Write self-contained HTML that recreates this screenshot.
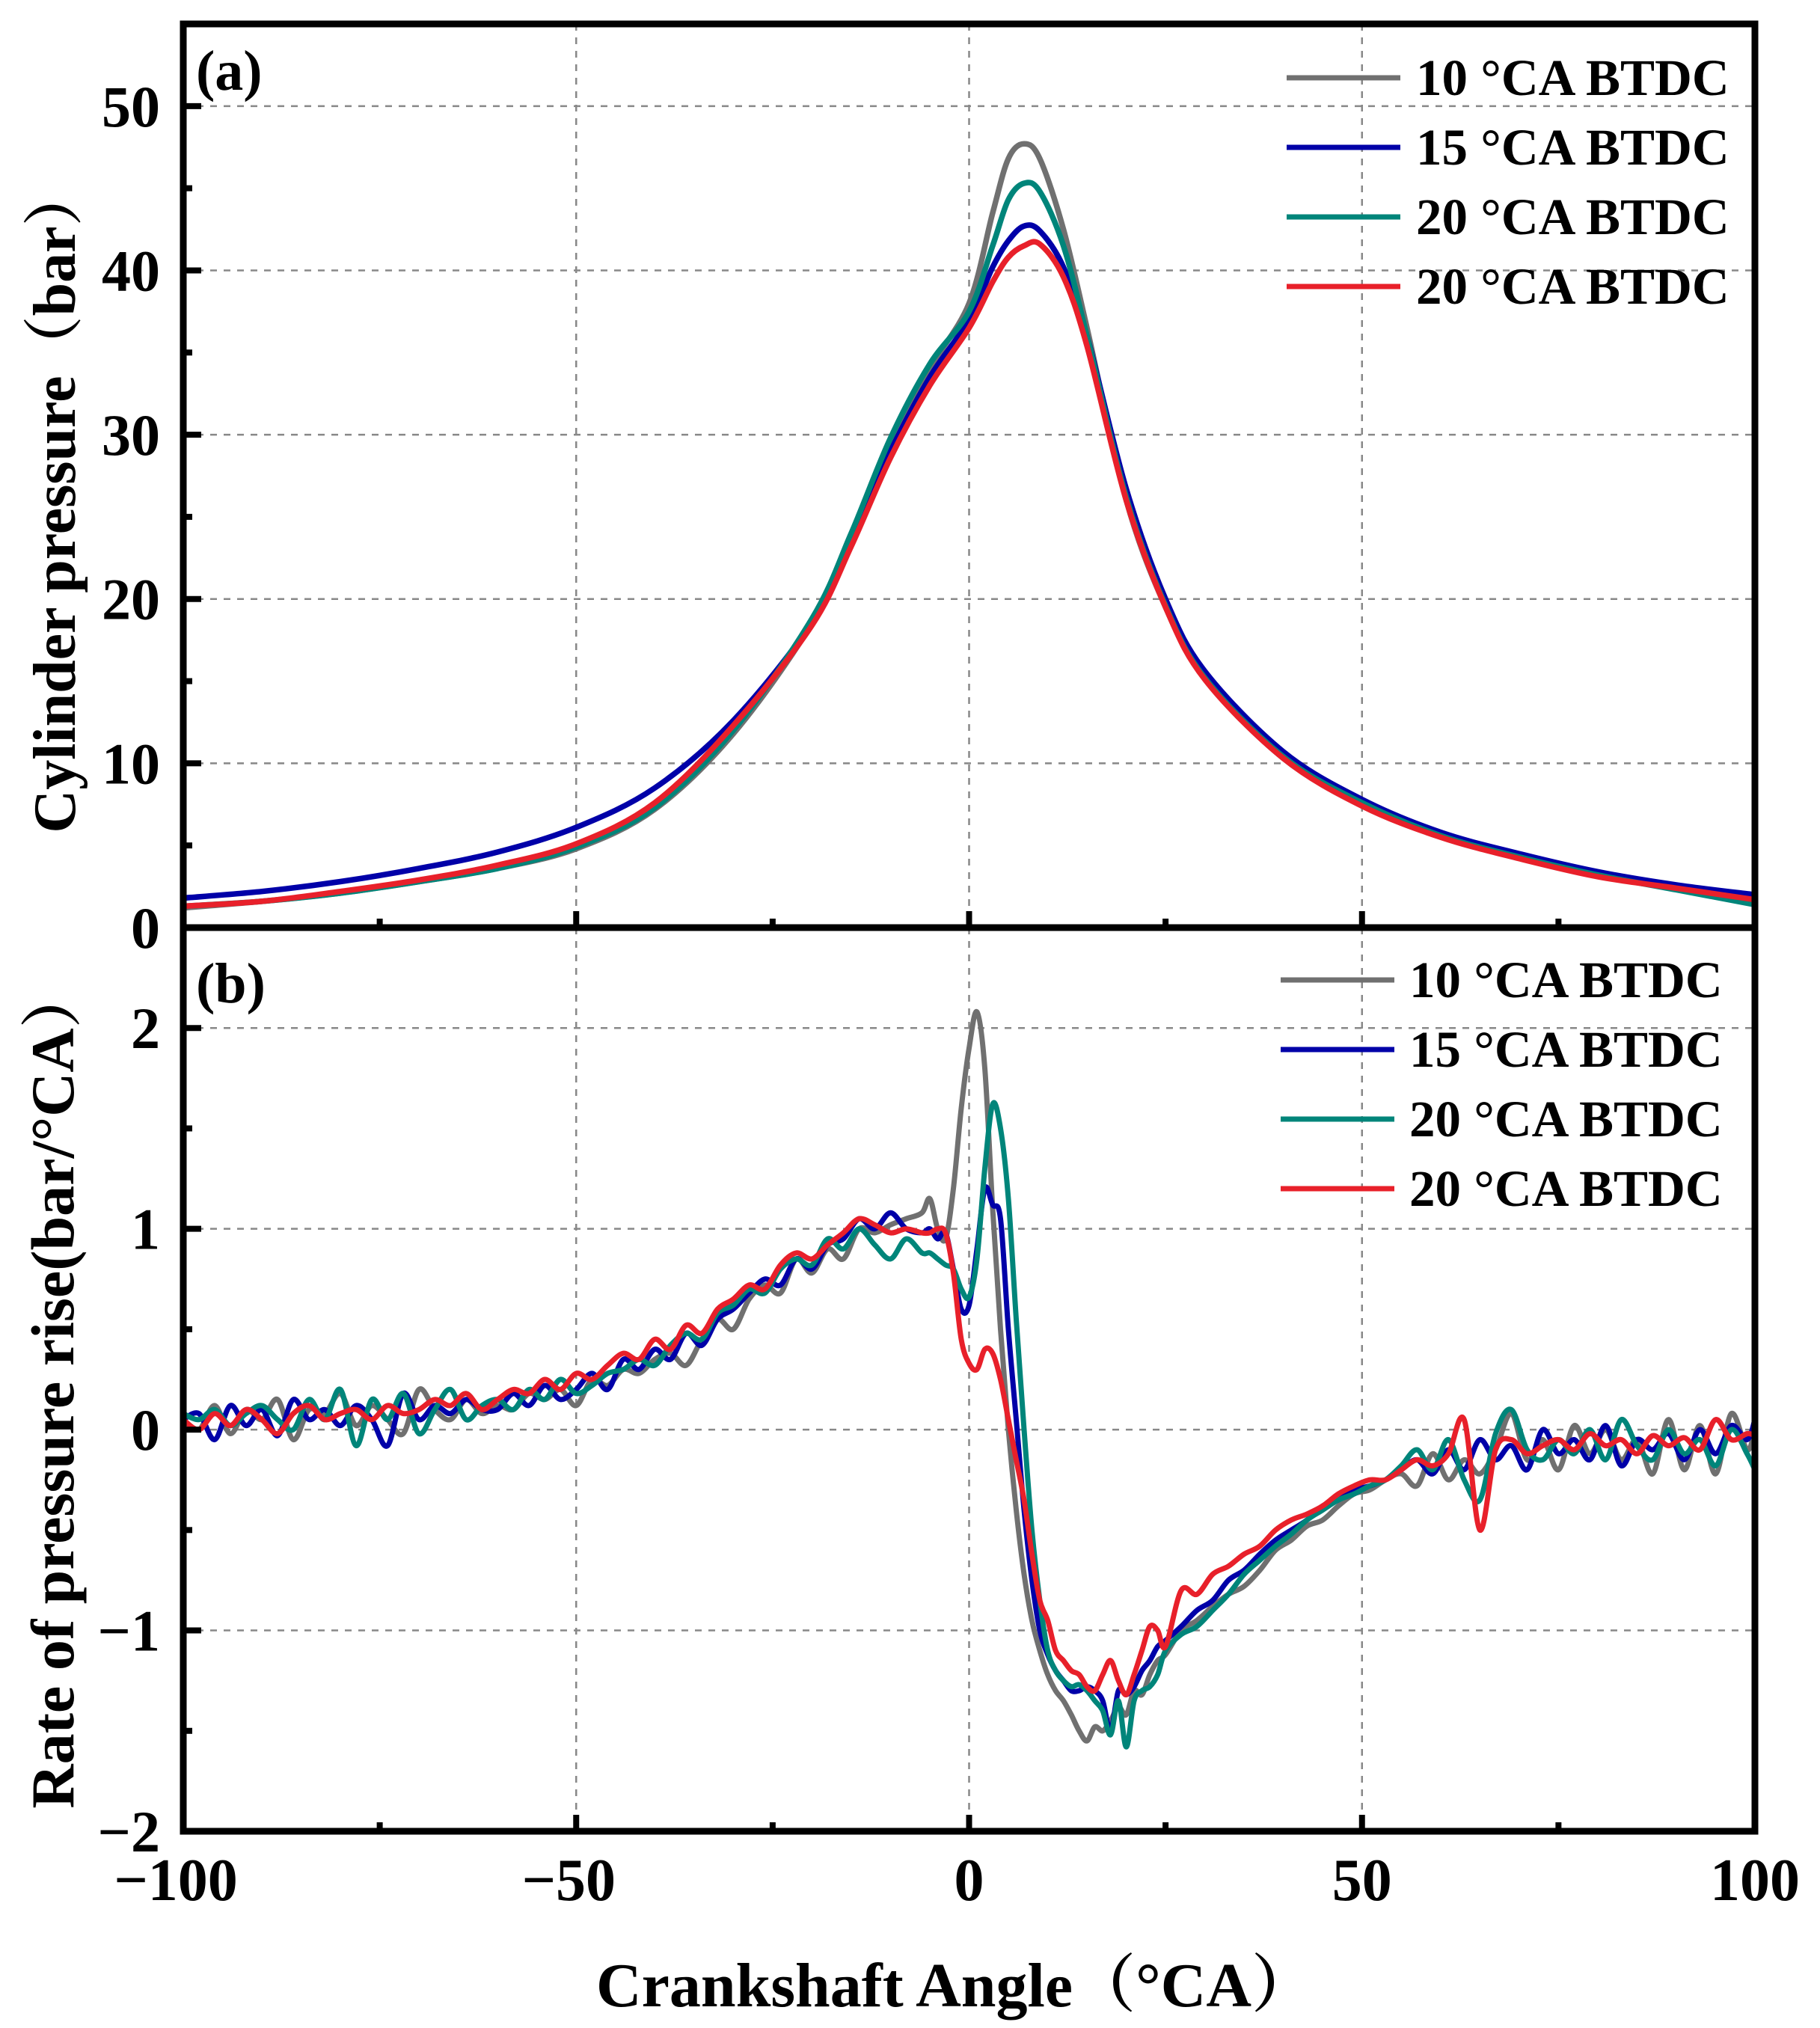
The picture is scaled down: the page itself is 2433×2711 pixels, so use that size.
<!DOCTYPE html>
<html><head><meta charset="utf-8"><style>
html,body{margin:0;padding:0;background:#fff;}
svg{display:block;}
text{font-family:"Liberation Serif","Noto Serif CJK SC",serif;font-weight:bold;fill:#000;}
</style></head><body>
<svg id="chart" width="2433" height="2711" viewBox="0 0 2433 2711" xmlns="http://www.w3.org/2000/svg">
<rect width="2433" height="2711" fill="#fff"/>
<g id="grid"></g>
<g id="series"></g>
<g id="axes"></g>
<g id="labels"></g>
</svg>
<script>
// ---------- data: panel (a) cylinder pressure ----------
const xA = [-100,-90,-80,-70,-60,-50,-40,-30,-20,-15,-10,-5,0,3,5,7,9,12,15,20,25,30,40,50,60,70,80,90,100];
const pA10 = [1.2,1.6,2.1,2.8,3.6,4.8,7.2,11.8,18.5,23.5,29.2,34,38,43.5,46.8,47.7,46.8,42.5,36.5,26,19.5,15.2,10.3,7.5,5.6,4.3,3.2,2.4,1.5];
const pA15 = [1.8,2.2,2.8,3.6,4.6,6.1,8.5,12.6,18.6,23.6,29,33.5,37,40.2,41.8,42.7,42.4,40.2,36,26.7,20,15.6,10.7,7.8,5.8,4.5,3.4,2.6,2.0];
const pA20 = [1.3,1.6,2.1,2.8,3.6,4.9,7.3,12,18.8,24,29.8,34.3,37.5,41.5,44.3,45.3,44.8,41.5,36,26.2,19.6,15.2,10.4,7.6,5.6,4.3,3.2,2.3,1.4];
const pA20b = [1.3,1.6,2.2,2.9,3.8,5.1,7.6,12.3,18.4,23.2,28.6,33,36.5,39.3,40.8,41.5,41.6,39.6,35.4,26,19.5,15.1,10.3,7.4,5.5,4.2,3.1,2.4,1.7];

// ---------- data: panel (b) rate of pressure rise ----------
const xB = [];
for (let v=-100; v<=-6; v+=2) xB.push(v);
for (let v=-5; v<=25; v++) xB.push(v);
for (let v=27; v<=99; v+=2) xB.push(v);
xB.push(100);
const rB10 = [
 0.05,0.00,0.12,-0.02,0.10,0.05,0.15,-0.05,0.10,0.08,
 0.18,0.02,0.12,0.05,-0.02,0.20,0.10,0.05,0.15,0.08,
 0.12,0.10,0.18,0.15,0.20,0.12,0.25,0.22,0.30,0.28,
 0.35,0.38,0.32,0.45,0.55,0.50,0.65,0.72,0.68,0.85,
 0.78,0.90,0.85,1.00,0.98,1.02,1.05,1.08,
 1.15,1.0,0.95,1.2,1.6,1.9,2.08,1.8,1.1,0.5,0.0,-0.4,-0.72,-0.95,-1.1,-1.22,-1.3,-1.35,-1.42,-1.5,-1.55,-1.48,-1.5,-1.45,-1.38,-1.42,-1.3,-1.32,-1.22,-1.15,-1.12,
 -1.0,-0.95,-0.88,-0.82,-0.78,-0.7,-0.6,-0.55,-0.48,-0.45,-0.38,-0.32,-0.3,-0.25,-0.22,-0.28,-0.12,-0.25,-0.15,-0.22,-0.1,0.08,-0.15,-0.05,-0.2,0.02,-0.12,0.0,-0.15,-0.05,-0.22,0.05,-0.2,0.02,-0.22,0.08,-0.1,0.0];
const rB15 = [
 0.05,0.08,-0.05,0.12,0.02,0.10,-0.03,0.15,0.05,0.10,
 0.02,0.12,0.05,-0.08,0.18,0.05,0.12,0.08,0.15,0.10,
 0.10,0.18,0.12,0.22,0.15,0.20,0.28,0.20,0.35,0.30,
 0.40,0.35,0.48,0.42,0.55,0.60,0.68,0.75,0.72,0.85,
 0.80,0.92,0.95,1.05,1.00,1.08,1.00,0.98,
 1.0,0.95,0.98,0.8,0.6,0.62,0.9,1.2,1.12,1.05,0.5,0.05,-0.4,-0.75,-1.0,-1.12,-1.2,-1.25,-1.3,-1.3,-1.28,-1.3,-1.35,-1.5,-1.3,-1.32,-1.28,-1.2,-1.15,-1.08,-1.05,
 -0.98,-0.9,-0.85,-0.75,-0.7,-0.62,-0.55,-0.5,-0.45,-0.38,-0.35,-0.3,-0.28,-0.25,-0.2,-0.15,-0.22,-0.1,-0.2,-0.05,-0.15,-0.08,-0.2,0.0,-0.12,-0.05,-0.15,0.02,-0.18,-0.05,-0.1,-0.02,-0.15,0.0,-0.12,0.02,-0.05,0.05];
const rB20 = [
 0.08,0.05,0.10,0.02,0.08,0.12,0.05,0.00,0.15,0.05,
 0.20,-0.08,0.15,0.05,0.18,-0.02,0.10,0.20,0.05,0.12,
 0.15,0.10,0.20,0.15,0.25,0.18,0.22,0.28,0.30,0.35,
 0.32,0.42,0.48,0.45,0.58,0.62,0.70,0.68,0.80,0.85,
 0.82,0.95,0.90,1.00,0.92,0.85,0.95,0.88,
 0.88,0.85,0.82,0.8,0.7,0.66,0.85,1.3,1.62,1.5,1.15,0.55,0.0,-0.5,-0.85,-1.1,-1.2,-1.25,-1.28,-1.27,-1.3,-1.35,-1.4,-1.52,-1.35,-1.58,-1.35,-1.3,-1.28,-1.22,-1.1,
 -1.02,-0.98,-0.9,-0.82,-0.72,-0.65,-0.58,-0.52,-0.45,-0.4,-0.35,-0.32,-0.28,-0.25,-0.18,-0.1,-0.2,-0.05,-0.25,-0.35,-0.02,0.1,-0.1,-0.15,-0.05,-0.12,0.0,-0.15,0.05,-0.08,-0.15,0.0,-0.12,-0.05,-0.18,0.0,-0.12,-0.2];
const rB20b = [
 0.05,0.00,0.08,0.02,0.10,0.05,-0.02,0.08,0.12,0.05,
 0.08,0.10,0.05,0.12,0.08,0.10,0.15,0.12,0.18,0.10,
 0.15,0.20,0.18,0.25,0.20,0.28,0.25,0.32,0.38,0.35,
 0.45,0.40,0.52,0.48,0.60,0.65,0.72,0.70,0.82,0.88,
 0.85,0.92,0.98,1.05,1.02,0.98,1.00,0.98,
 0.98,1.0,0.98,0.78,0.45,0.33,0.3,0.4,0.38,0.25,0.05,-0.15,-0.35,-0.62,-0.85,-0.95,-1.1,-1.15,-1.2,-1.22,-1.28,-1.3,-1.22,-1.15,-1.25,-1.32,-1.22,-1.1,-0.98,-1.0,-1.08,
 -0.8,-0.82,-0.72,-0.68,-0.62,-0.58,-0.5,-0.45,-0.42,-0.38,-0.32,-0.28,-0.25,-0.25,-0.2,-0.15,-0.18,-0.12,0.05,-0.5,-0.1,-0.05,-0.12,-0.08,-0.05,-0.1,-0.02,-0.08,-0.05,-0.12,-0.03,-0.08,-0.04,-0.1,0.05,-0.05,-0.02,-0.03];

const xTicks = [-100,-50,0,50,100];
const yTicksA = [0,10,20,30,40,50];
const yTicksB = [-2,-1,0,1,2];
const yLabelsB = ["\u22122","\u22121","0","1","2"];
const xLabels = ["\u2212100","\u221250","0","50","100"];
const legendLabels = ["10 \u00b0CA BTDC","15 \u00b0CA BTDC","20 \u00b0CA BTDC","20 \u00b0CA BTDC"];
const colors = ["#707070","#0000a8","#00857a","#e8202a"];

// ---------- layout ----------
const L=245, R=2346, TA=32, BA=1240, TB=1240, BB=2448;
const sx = v => L + (v+100)/200*(R-L);
const syA = v => BA - v/55*(BA-TA);
const syB = v => BB - (v+2)/4.5*(BB-TB);
const NS="http://www.w3.org/2000/svg";
function el(tag, attrs, parent){const e=document.createElementNS(NS,tag);for(const k in attrs)e.setAttribute(k,attrs[k]);parent.appendChild(e);return e;}
const grid=document.getElementById('grid'), ser=document.getElementById('series'), axes=document.getElementById('axes'), lab=document.getElementById('labels');

function smoothPath(xs, ys, fx, fy){
  const p = xs.slice(0, Math.min(xs.length, ys.length)).map((x,i)=>[fx(x), fy(ys[i])]);
  let d = "M"+p[0][0].toFixed(1)+","+p[0][1].toFixed(1);
  for(let i=0;i<p.length-1;i++){
    const p0=p[Math.max(0,i-1)], p1=p[i], p2=p[i+1], p3=p[Math.min(p.length-1,i+2)];
    const c1=[p1[0]+(p2[0]-p0[0])/6, p1[1]+(p2[1]-p0[1])/6];
    const c2=[p2[0]-(p3[0]-p1[0])/6, p2[1]-(p3[1]-p1[1])/6];
    d+=" C"+c1[0].toFixed(1)+","+c1[1].toFixed(1)+" "+c2[0].toFixed(1)+","+c2[1].toFixed(1)+" "+p2[0].toFixed(1)+","+p2[1].toFixed(1);
  }
  return d;
}

// gridlines
xTicks.slice(1,-1).forEach(v=>{
  const g1=el('line',{x1:sx(v),x2:sx(v),y1:TA,y2:BA,stroke:'#888','stroke-width':2.5,'stroke-dasharray':'9 9'},grid);
  
  
  const g2=el('line',{x1:sx(v),x2:sx(v),y1:TB,y2:BB,stroke:'#888','stroke-width':2.5,'stroke-dasharray':'9 9'},grid);
  
  
});
yTicksA.slice(1).forEach(v=>{
  const g=el('line',{x1:L,x2:R,y1:syA(v),y2:syA(v),stroke:'#888','stroke-width':2.5,'stroke-dasharray':'9 9'},grid);
  
  
});
yTicksB.slice(1).forEach(v=>{
  const g=el('line',{x1:L,x2:R,y1:syB(v),y2:syB(v),stroke:'#888','stroke-width':2.5,'stroke-dasharray':'9 9'},grid);
  
  
});

// series
const seriesA=[pA10,pA15,pA20,pA20b], seriesB=[rB10,rB15,rB20,rB20b];
seriesA.forEach((ys,i)=>{
  const p=el('path',{d:smoothPath(xA,ys,sx,syA),fill:'none',stroke:colors[i],'stroke-width':7.5,'stroke-linejoin':'round'},ser);
  
  
});
seriesB.forEach((ys,i)=>{
  const p=el('path',{d:smoothPath(xB,ys,sx,syB),fill:'none',stroke:colors[i],'stroke-width':7,'stroke-linejoin':'round'},ser);
  
  
});

// frames
const fa=el('rect',{x:L,y:TA,width:R-L,height:BA-TA,fill:'none',stroke:'#000','stroke-width':9},axes);


const fb=el('rect',{x:L,y:TB,width:R-L,height:BB-TB,fill:'none',stroke:'#000','stroke-width':9},axes);



// x ticks
for(let v=-100; v<=100; v+=25){
  const len = (v%50===0)?22:12;
  [BA,BB].forEach(yb=>{
    const t=el('line',{x1:sx(v),x2:sx(v),y1:yb,y2:yb-len,stroke:'#000','stroke-width':8},axes);
    
    
  });
}
for(let v=0; v<=55; v+=5){
  const len=(v%10===0)?24:12;
  const t=el('line',{x1:L,x2:L+len,y1:syA(v),y2:syA(v),stroke:'#000','stroke-width':8},axes);
  
  
}
for(let v=-2; v<=2.5; v+=0.5){
  const len=(Math.abs(v%1)<1e-6)?24:12;
  const t=el('line',{x1:L,x2:L+len,y1:syB(v),y2:syB(v),stroke:'#000','stroke-width':8},axes);
  
  
}

// tick labels
yTicksA.forEach(v=>{
  const t=el('text',{x:214,y:syA(v)+27,'font-size':78,'text-anchor':'end'},lab);
  t.textContent=String(v);
  
  
});
yTicksB.forEach((v,i)=>{
  const t=el('text',{x:214,y:syB(v)+27,'font-size':78,'text-anchor':'end'},lab);
  t.textContent=yLabelsB[i];
  
  
});
xTicks.forEach((v,i)=>{
  const t=el('text',{x:sx(v)-(v<0?10:0),y:2540,'font-size':80,'text-anchor':'middle'},lab);
  t.textContent=xLabels[i];
  
  
});

// panel letters
const ta=el('text',{x:262,y:120,'font-size':76},lab);
ta.textContent='(a)';


const tb=el('text',{x:262,y:1340,'font-size':76},lab);
tb.textContent='(b)';



// legends
const legA=[104,197,290,383], legB=[1310,1403,1496,1589];
legendLabels.forEach((s,i)=>{
  const la=el('line',{x1:1720,x2:1872,y1:legA[i],y2:legA[i],stroke:colors[i],'stroke-width':7},lab);
  
  
  const ta2=el('text',{x:1893,y:legA[i]+23,'font-size':69},lab);
  ta2.textContent=s;
  
  
  const lb=el('line',{x1:1712,x2:1864,y1:legB[i],y2:legB[i],stroke:colors[i],'stroke-width':7},lab);
  
  
  const tb2=el('text',{x:1884,y:legB[i]+23,'font-size':69},lab);
  tb2.textContent=s;
  
  
});

// axis titles
const xt=el('text',{x:1277,y:2682,'font-size':84,'text-anchor':'middle'},lab);
xt.textContent='Crankshaft Angle\uff08\u00b0CA\uff09';


const yta=el('text',{x:0,y:0,'font-size':80,'text-anchor':'middle',transform:'translate(100,668) rotate(-90)'},lab);
yta.textContent='Cylinder pressure\uff08bar\uff09';


const ytb=el('text',{x:0,y:0,'font-size':82,'text-anchor':'middle',transform:'translate(98,1855) rotate(-90)'},lab);
ytb.textContent='Rate of pressure rise(bar/\u00b0CA\uff09';


</script>
</body></html>
